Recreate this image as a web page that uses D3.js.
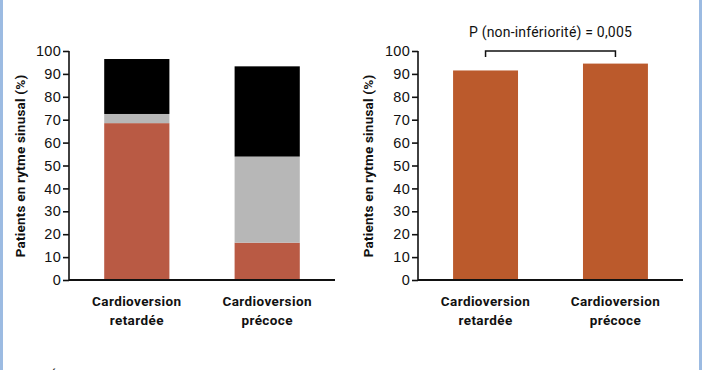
<!DOCTYPE html>
<html>
<head>
<meta charset="utf-8">
<script src="https://cdn.jsdelivr.net/npm/d3@7"></script>
<style>
  body { margin: 0; background: #fff; }
  svg { display: block; font-family: Roboto, "Noto Sans", sans-serif; }
  .tick text { font-size: 14.5px; fill: #111; letter-spacing: 0.3px; }
  .tick line, .domain { stroke: #111; stroke-width: 1.6px; }
</style>
</head>
<body>
<div id="chart"></div>
<script>
// -DATA-
const categories = ["Cardioversion retardée", "Cardioversion précoce"];
const catLines = [["Cardioversion", "retardée"], ["Cardioversion", "précoce"]];
// left panel: stacked segments (bottom -> top)
const redSeg = [68.5, 16.3];
const graySeg = [4.0, 37.6];
const blackSeg = [24.0, 39.4];
// right panel
const rightValues = [91.5, 94.5];
const yTicks = [0, 10, 20, 30, 40, 50, 60, 70, 80, 90, 100];
const yLabel = "Patients en rytme sinusal (%)";
const pText = "P (non-infériorité) = 0,005";

// -SIZES-
const W = 702, H = 370;

const svg = d3.select("#chart").append("svg")
    .attr("width", W)
    .attr("height", H);

svg.append("rect").attr("width", W).attr("height", H).attr("fill", "#fff");
// blue frame edges
svg.append("rect").attr("x", 0).attr("y", 0).attr("width", 3).attr("height", H).attr("fill", "#9cbbe2");
svg.append("rect").attr("x", 699).attr("y", 0).attr("width", 3).attr("height", H).attr("fill", "#9cbbe2");

const y = d3.scaleLinear().domain([0, 100]).range([280, 51]);

function drawPanel(x0, x1, labelX) {
    const x = d3.scaleBand()
        .domain(categories)
        .range([x0, x1])
        .paddingInner(0.5)
        .paddingOuter(0.27);

    const g = svg.append("g");

    g.append("g")
        .attr("transform", "translate(" + x0 + ",0)")
        .call(d3.axisLeft(y).tickValues(yTicks).tickSize(6).tickSizeOuter(0).tickPadding(2))
        .call(a => a.select(".domain").attr("d", "M0," + y(100) + "V" + y(0)));

    g.append("line")
        .attr("x1", x0).attr("x2", x1)
        .attr("y1", y(0)).attr("y2", y(0))
        .attr("stroke", "#111").attr("stroke-width", 1.8);

    // category labels
    const lab = g.selectAll(".cat")
        .data(categories)
        .enter()
        .append("text")
        .attr("class", "cat")
        .attr("text-anchor", "middle")
        .attr("font-size", "13.5px")
        .attr("font-weight", "bold")
        .attr("letter-spacing", "0.4px")
        .attr("fill", "#111");
    lab.selectAll("tspan")
        .data((d, i) => catLines[i].map(t => ({ t: t, cx: x(d) + x.bandwidth() / 2 })))
        .enter()
        .append("tspan")
        .attr("x", d => d.cx)
        .attr("y", (d, i) => 306 + i * 19)
        .text(d => d.t);

    // y label
    g.append("text")
        .attr("transform", "translate(" + labelX + "," + 166 + ") rotate(-90)")
        .attr("text-anchor", "middle")
        .attr("font-size", "13.5px")
        .attr("font-weight", "bold")
        .attr("letter-spacing", "0.2px")
        .attr("fill", "#111")
        .text(yLabel);

    return { g: g, x: x };
}

// -LEFT PANEL-
const left = drawPanel(69, 335, 25);
const stackData = categories.map((c, i) => ({ cat: c, red: redSeg[i], gray: graySeg[i], black: blackSeg[i] }));
const stack = d3.stack().keys(["red", "gray", "black"]);
const segColor = { red: "#b95a44", gray: "#b7b7b7", black: "#000" };

left.g.insert("g", ":first-child").selectAll("g")
    .data(stack(stackData))
    .enter()
    .append("g")
    .attr("fill", d => segColor[d.key])
    .selectAll("rect")
    .data(d => d)
    .enter()
    .append("rect")
    .attr("x", d => left.x(d.data.cat))
    .attr("width", left.x.bandwidth())
    .attr("y", d => y(d[1]))
    .attr("height", d => y(d[0]) - y(d[1]));

// -RIGHT PANEL-
const right = drawPanel(418, 683, 373);
right.g.insert("g", ":first-child").selectAll("rect")
    .data(rightValues)
    .enter()
    .append("rect")
    .attr("x", (d, i) => right.x(categories[i]))
    .attr("width", right.x.bandwidth())
    .attr("y", d => y(d))
    .attr("height", d => y(0) - y(d))
    .attr("fill", "#bb5a2c");

// bracket
const bx1 = right.x(categories[0]) + right.x.bandwidth() / 2;
const bx2 = right.x(categories[1]) + right.x.bandwidth() / 2;
svg.append("path")
    .attr("d", "M" + bx1 + "," + (y(100) + 6) + "V" + y(100) + "H" + bx2 + "V" + (y(100) + 6))
    .attr("fill", "none")
    .attr("stroke", "#111")
    .attr("stroke-width", 1.5);

svg.append("text")
    .attr("x", (bx1 + bx2) / 2)
    .attr("y", 37)
    .attr("text-anchor", "middle")
    .attr("font-size", "14px")
    .attr("letter-spacing", "0.2px")
    .attr("fill", "#111")
    .text(pText);

// cut-off caption at the bottom (only its top shows, as in the source)
svg.append("text")
    .attr("x", 49)
    .attr("y", 382)
    .attr("font-size", "14px")
    .attr("fill", "#222")
    .text("É");
</script>
</body>
</html>
